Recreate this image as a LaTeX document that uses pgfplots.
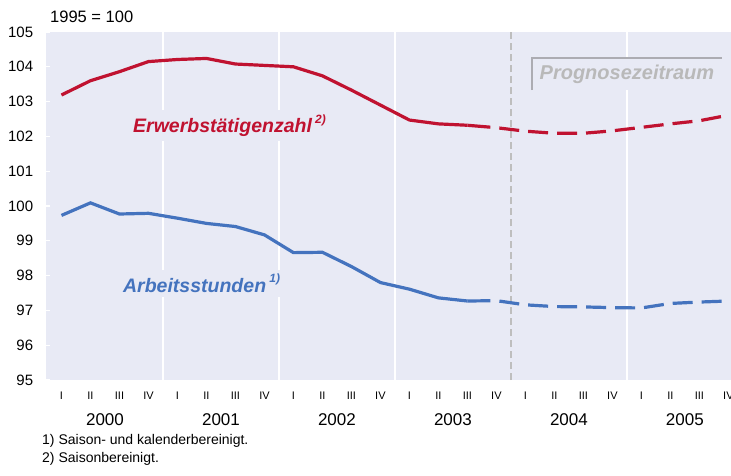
\documentclass[border=0pt]{standalone}
\usepackage{pgfplots}
\pgfplotsset{compat=1.18}
\usepackage{fontspec}
\setmainfont{Liberation Sans}
\definecolor{bgc}{RGB}{232,234,245}
\definecolor{redc}{RGB}{192,18,48}
\definecolor{bluec}{RGB}{68,115,190}
\definecolor{dgray}{RGB}{190,190,190}
\definecolor{pgray}{RGB}{185,185,185}
\definecolor{bgray}{RGB}{172,172,178}
\begin{document}
\begin{tikzpicture}
\path[use as bounding box] (-46pt,-95pt) rectangle (685pt,380pt);
\begin{axis}[
  at={(0,0)}, anchor=south west,
  scale only axis, width=685pt, height=348pt,
  xmin=-0.534, xmax=23.09, ymin=95, ymax=105,
  clip=false,
  axis line style={draw=none},
  axis background/.style={fill=bgc},
  ytick={95,96,...,105},
  ytick pos=left, xtick pos=bottom,
  tick align=inside,
  major tick length=4pt,
  tick style={white, line width=1.3pt},
  /pgf/number format/assume math mode=true,
  yticklabel style={font=\fontsize{15}{15}\selectfont, inner sep=0pt, anchor=east, xshift=-12.7pt},
  xtick={0,...,23},
  xticklabels={I,II,III,IV,I,II,III,IV,I,II,III,IV,I,II,III,IV,I,II,III,IV,I,II,III,IV},
  x tick style={draw=none},
  xticklabel style={font=\fontsize{11}{11}\selectfont, inner sep=0pt, anchor=base, yshift=-19.5pt},
  extra x ticks={0.5,1.5,...,22.5},
  extra x tick labels={},
  extra x tick style={tick style={white, line width=1.3pt}, major tick length=4pt},
]
% year separators
\draw[white, line width=2.8pt] (axis cs:3.5,95) -- (axis cs:3.5,105);
\draw[white, line width=2.8pt] (axis cs:7.5,95) -- (axis cs:7.5,105);
\draw[white, line width=2.8pt] (axis cs:11.5,95) -- (axis cs:11.5,105);
\draw[white, line width=2.8pt] (axis cs:19.5,95) -- (axis cs:19.5,105);
\draw[dgray, line width=2pt, dash pattern=on 7pt off 4pt] (axis cs:15.5,95) -- (axis cs:15.5,105);
% Prognose box
\fill[bgc] (axis cs:16.224,104.253) rectangle (axis cs:22.776,103.333);
\draw[bgray, line width=1.5pt] (axis cs:16.224,103.333) -- (axis cs:16.224,104.253) -- (axis cs:22.776,104.253);
\node[anchor=base, text=pgray, font=\fontsize{20}{20}\selectfont\bfseries\itshape, inner sep=0pt] at (axis cs:19.5,103.621) {Prognosezeitraum};
% Erwerbstaetigenzahl
\addplot[redc, line width=3.2pt] coordinates {
(0,103.19) (1,103.60) (2,103.86) (3,104.15) (4,104.21) (5,104.24) (6,104.08) (7,104.04)
(8,104.00) (9,103.74) (10,103.33) (11,102.90) (12,102.47) (13,102.36) (14,102.32)};
\addplot[redc, line width=3.2pt, dash pattern=on 23pt off 9pt on 20pt off 9pt on 20pt off 9pt on 20pt off 9pt on 20pt off 9pt on 20pt off 9pt on 20pt off 9pt on 20pt off 9pt on 20pt off 9pt] coordinates {
(14,102.32) (15,102.25) (16,102.15) (17,102.09) (18,102.09) (19,102.16) (20,102.26) (21,102.36) (22,102.45) (23,102.61)};
% Arbeitsstunden
\addplot[bluec, line width=3.2pt] coordinates {
(0,99.73) (1,100.09) (2,99.77) (3,99.79) (4,99.65) (5,99.50) (6,99.41) (7,99.17)
(8,98.66) (9,98.67) (10,98.26) (11,97.80) (12,97.61) (13,97.36) (14,97.27)};
\addplot[bluec, line width=3.2pt, dash pattern=on 23pt off 9pt on 20pt off 9pt on 20pt off 9pt on 20pt off 9pt on 20pt off 9pt on 20pt off 9pt on 20pt off 9pt on 20pt off 9pt on 20pt off 9pt] coordinates {
(14,97.27) (15,97.28) (16,97.16) (17,97.11) (18,97.10) (19,97.08) (20,97.07) (21,97.20) (22,97.24) (23,97.27)};
% series labels
\node[anchor=base west, fill=bgc, inner xsep=3pt, inner ysep=4pt, xshift=-3pt, text=redc, font=\fontsize{19.5}{19.5}\selectfont\bfseries\itshape] at (axis cs:2.466,102.10) {Erwerbstätigenzahl\,\raisebox{0.5em}{\fontsize{12}{12}\selectfont 2)}};
\node[anchor=base west, fill=bgc, inner xsep=3pt, inner ysep=4pt, xshift=-3pt, text=bluec, font=\fontsize{19.5}{19.5}\selectfont\bfseries\itshape] at (axis cs:2.12,97.51) {Arbeitsstunden\,\raisebox{0.5em}{\fontsize{12}{12}\selectfont 1)}};
% year labels
\node[anchor=base, inner sep=0pt, yshift=-45pt, font=\fontsize{17}{17}\selectfont] at (axis cs:1.5,95) {2000};
\node[anchor=base, inner sep=0pt, yshift=-45pt, font=\fontsize{17}{17}\selectfont] at (axis cs:5.5,95) {2001};
\node[anchor=base, inner sep=0pt, yshift=-45pt, font=\fontsize{17}{17}\selectfont] at (axis cs:9.5,95) {2002};
\node[anchor=base, inner sep=0pt, yshift=-45pt, font=\fontsize{17}{17}\selectfont] at (axis cs:13.5,95) {2003};
\node[anchor=base, inner sep=0pt, yshift=-45pt, font=\fontsize{17}{17}\selectfont] at (axis cs:17.5,95) {2004};
\node[anchor=base, inner sep=0pt, yshift=-45pt, font=\fontsize{17}{17}\selectfont] at (axis cs:21.5,95) {2005};
% header and footnotes
\node[anchor=base west, inner sep=0pt, xshift=4pt, yshift=9.3pt, font=\fontsize{16.5}{16.5}\selectfont] at (rel axis cs:0,1) {1995 = 100};
\node[anchor=base west, inner sep=0pt, xshift=-4pt, yshift=-64pt, font=\fontsize{14}{14}\selectfont] at (rel axis cs:0,0) {1) Saison- und kalenderbereinigt.};
\node[anchor=base west, inner sep=0pt, xshift=-4pt, yshift=-82pt, font=\fontsize{14}{14}\selectfont] at (rel axis cs:0,0) {2) Saisonbereinigt.};
\end{axis}
\end{tikzpicture}
\end{document}
